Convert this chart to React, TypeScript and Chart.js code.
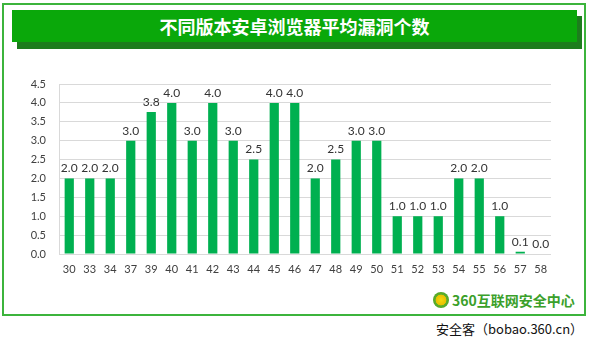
import React, { useEffect, useRef } from "react";
import { Chart, registerables } from "chart.js";

Chart.register(...registerables);

const title = "不同版本安卓浏览器平均漏洞个数";
const versions = ["30","33","34","37","39","40","41","42","43","44","45","46","47","48","49","50","51","52","53","54","55","56","57","58"];
const avgVulns = [2.0,2.0,2.0,3.0,3.76,4.0,3.0,4.0,3.0,2.5,4.0,4.0,2.0,2.5,3.0,3.0,1.0,1.0,1.0,2.0,2.0,1.0,0.06,0.0];
const yMax = 4.5;
const yStep = 0.5;
const brandText = "360互联网安全中心";
const sourceText = "安全客（bobao.360.cn）";

const valueLabels = {
  id: "valueLabels",
  afterDatasetsDraw(chart: any) {
    const ctx = chart.ctx;
    const meta = chart.getDatasetMeta(0);
    const data = chart.data.datasets[0].data as number[];
    ctx.save();
    ctx.font = "12px Lato, 'Open Sans', sans-serif";
    ctx.fillStyle = "#333333";
    ctx.textAlign = "center";
    ctx.textBaseline = "bottom";
    meta.data.forEach((el: any, i: number) => {
      ctx.fillText(data[i].toFixed(1), el.x, el.y - 4);
    });
    ctx.restore();
  },
};

function BarChart() {
  const ref = useRef<HTMLCanvasElement>(null);
  useEffect(() => {
    if (!ref.current) return;
    const chart = new Chart(ref.current, {
      type: "bar",
      data: {
        labels: versions,
        datasets: [
          {
            data: avgVulns,
            backgroundColor: "#00b050",
            barPercentage: 0.45,
            categoryPercentage: 1,
          },
        ],
      },
      options: {
        animation: false,
        responsive: false,
        maintainAspectRatio: false,
        layout: { padding: { left: 0, right: 38, top: 24, bottom: 0 } },
        plugins: { legend: { display: false }, tooltip: { enabled: false } },
        scales: {
          x: {
            grid: { display: false, drawTicks: false },
            border: { display: false },
            ticks: {
              color: "#404040",
              font: { family: "Lato, 'Open Sans', sans-serif", size: 11 },
              padding: 9,
              maxRotation: 0,
              autoSkip: false,
            },
            afterFit(scale: any) {
              scale.height = 36;
            },
          },
          y: {
            min: 0,
            max: yMax,
            grid: { color: "#d9d9d9", drawTicks: false },
            border: { display: true, color: "#d9d9d9" },
            ticks: {
              stepSize: yStep,
              color: "#404040",
              font: { family: "Lato, 'Open Sans', sans-serif", size: 11 },
              padding: 13,
              callback: (v: any) => Number(v).toFixed(1),
            },
            afterFit(scale: any) {
              scale.width = 59;
            },
          },
        },
      },
      plugins: [valueLabels],
    });
    return () => chart.destroy();
  }, []);
  return (
    <canvas
      ref={ref}
      width={589}
      height={230}
      style={{ position: "absolute", left: 0, top: 60, width: 589, height: 230 }}
    />
  );
}

export default function App() {
  return (
    <div
      style={{
        position: "absolute",
        left: 0,
        top: 0,
        width: 589,
        height: 350,
        background: "#ffffff",
        overflow: "hidden",
        fontFamily: "'Noto Sans CJK SC', sans-serif",
      }}
    >
      <div
        style={{
          position: "absolute",
          left: 2,
          top: 3,
          width: 584,
          height: 313,
          border: "2px solid #3cb43c",
          boxSizing: "border-box",
        }}
      />
      <div style={{ position: "absolute", left: 17, top: 16, width: 565, height: 33, background: "#1d7d1d" }} />
      <div
        style={{
          position: "absolute",
          left: 12,
          top: 10,
          width: 565,
          height: 32,
          background: "#0aa80a",
          color: "#ffffff",
          fontWeight: 700,
          fontSize: 18,
          lineHeight: "32px",
          textAlign: "center",
        }}
      >
        {title}
      </div>
      <BarChart />
      <div
        style={{
          position: "absolute",
          left: 433,
          top: 292,
          width: 16,
          height: 16,
          borderRadius: "50%",
          background: "radial-gradient(circle at 50% 50%, #f5d90a 0%, #e8c000 45%, #5fb02a 50%, #3c9a1e 100%)",
        }}
      />
      <div
        style={{
          position: "absolute",
          left: 452,
          top: 290,
          height: 20,
          lineHeight: "20px",
          fontSize: 14,
          fontWeight: 700,
          color: "#3aa02a",
          whiteSpace: "nowrap",
        }}
      >
        {brandText}
      </div>
      <div
        style={{
          position: "absolute",
          left: 436,
          top: 319,
          height: 20,
          lineHeight: "20px",
          fontSize: 13,
          color: "#111111",
          whiteSpace: "nowrap",
        }}
      >
        {sourceText}
      </div>
    </div>
  );
}
